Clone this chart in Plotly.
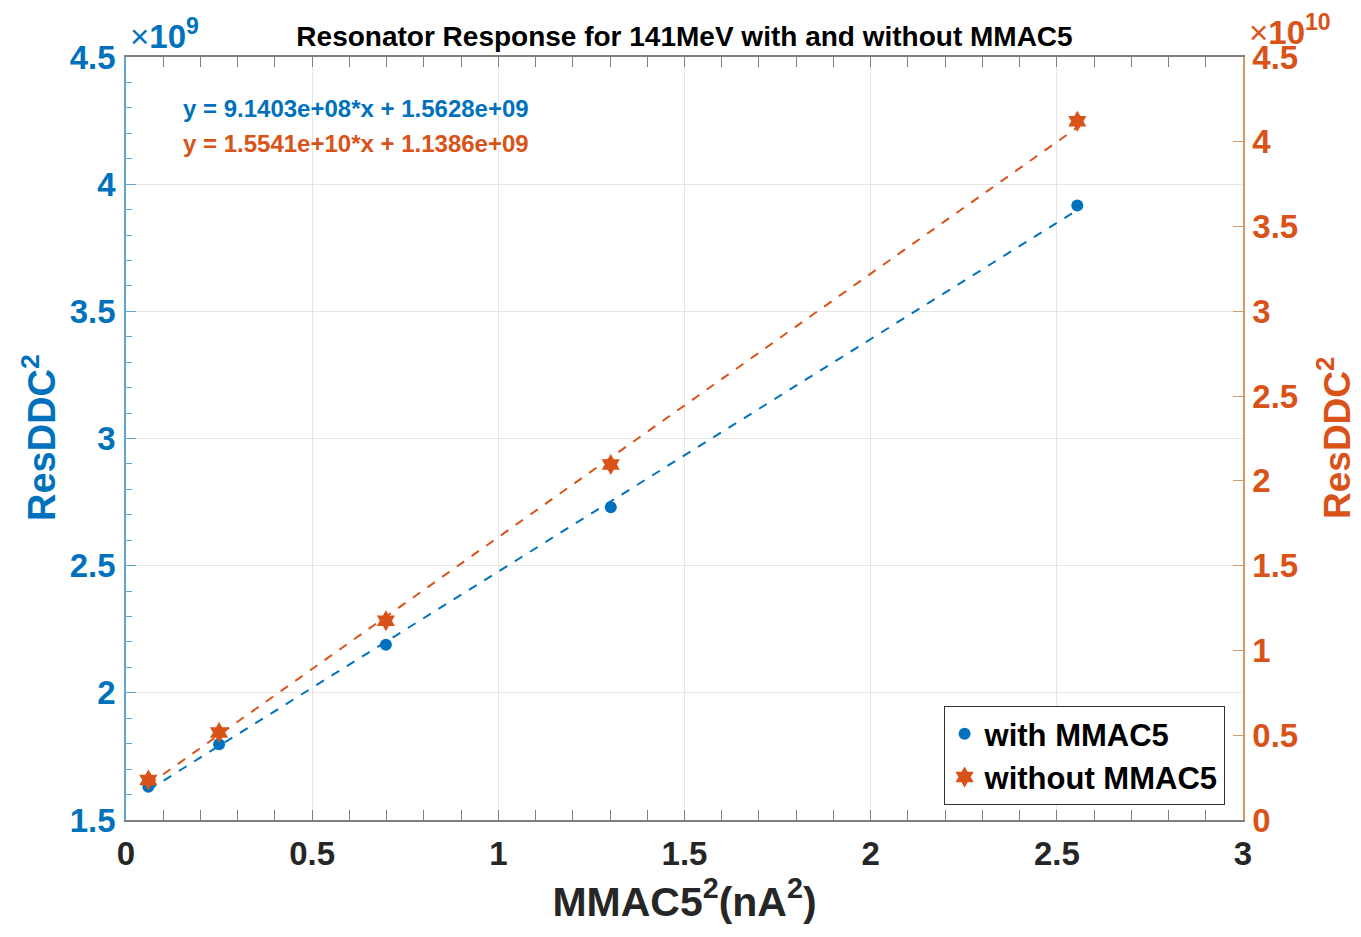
import plotly.graph_objects as go

# ---- data ----
x_mmac = [0.06, 0.25, 0.698, 1.302, 2.555]
y_with = [1.631e9, 1.798e9, 2.189e9, 2.730e9, 3.916e9]
y_without = [0.236e10, 0.516e10, 1.175e10, 2.097e10, 4.121e10]
fit_with = [9.1403e8, 1.5628e9]      # slope, intercept
fit_without = [1.5541e10, 1.1386e9]
left_ticks = [1.5, 2, 2.5, 3, 3.5, 4, 4.5]
right_ticks = [0, 0.5, 1, 1.5, 2, 2.5, 3, 3.5, 4, 4.5]
x_ticks = [0, 0.5, 1, 1.5, 2, 2.5, 3]

BLUE = "#0072BD"
ORANGE = "#D95319"
FONT = "Liberation Sans"

fit_x = [x_mmac[0], x_mmac[-1]]
fit_y_with = [fit_with[0] * v + fit_with[1] for v in fit_x]
fit_y_without = [fit_without[0] * v + fit_without[1] for v in fit_x]

fig = go.Figure()
fig.add_trace(go.Scatter(x=fit_x, y=fit_y_with, mode="lines",
                         line=dict(color=BLUE, width=2, dash="dash"),
                         showlegend=False, yaxis="y"))
fig.add_trace(go.Scatter(x=fit_x, y=fit_y_without, mode="lines",
                         line=dict(color=ORANGE, width=2, dash="dash"),
                         showlegend=False, yaxis="y2"))
fig.add_trace(go.Scatter(x=x_mmac, y=y_with, mode="markers", name="with MMAC5",
                         marker=dict(symbol="circle", size=12, color=BLUE),
                         yaxis="y"))
fig.add_trace(go.Scatter(x=x_mmac, y=y_without, mode="markers", name="without MMAC5",
                         marker=dict(symbol="hexagram", size=16, color=ORANGE),
                         yaxis="y2"))

def fmt(v):
    return ("%g" % v)

PL, PR, PT, PB = 126, 1243, 57, 820
PW, PH = PR - PL, PB - PT

fig.update_layout(
    width=1361, height=937,
    margin=dict(l=PL, r=1361 - PR, t=PT, b=937 - PB),
    paper_bgcolor="white", plot_bgcolor="white",
    font=dict(family=FONT, color="#262626"),
    title=dict(text="Resonator Response for 141MeV with and without MMAC5",
               x=(PL + PR) / 2 / 1361, xanchor="center", y=1 - 36 / 937, yanchor="middle",
               font=dict(size=28, weight="bold", color="black", family=FONT)),
    xaxis=dict(range=[0, 3], tickvals=x_ticks, ticktext=[fmt(v) for v in x_ticks],
               showline=True, linecolor="#7f7f7f", linewidth=1.5, mirror="allticks",
               ticks="inside", ticklen=10, tickcolor="#7f7f7f",
               minor=dict(dtick=0.1, ticks="inside", ticklen=6, tickcolor="#7f7f7f", showgrid=False),
               showgrid=True, gridcolor="#e6e6e6", zeroline=False,
               tickfont=dict(size=33, weight="bold", color="#262626"),
               ticklabelstandoff=4,
               title=dict(text="MMAC5<sup>2</sup>(nA<sup>2</sup>)", standoff=14,
                          font=dict(size=41, weight="bold", color="#262626"))),
    yaxis=dict(range=[1.5e9, 4.5e9], tickvals=[v * 1e9 for v in left_ticks],
               ticktext=[fmt(v) for v in left_ticks],
               showline=True, linecolor="#5fa3cf", linewidth=1.5,
               ticks="inside", ticklen=10, tickcolor="#5fa3cf",
               minor=dict(dtick=1e8, ticks="inside", ticklen=6, tickcolor="#5fa3cf", showgrid=False),
               showgrid=True, gridcolor="#e6e6e6", zeroline=False,
               tickfont=dict(size=33, weight="bold", color=BLUE),
               ticklabelstandoff=2),
    yaxis2=dict(range=[0, 4.5e10], tickvals=[v * 1e10 for v in right_ticks],
                ticktext=[fmt(v) for v in right_ticks],
                overlaying="y", side="right",
                showline=True, linecolor="#d49a6a", linewidth=1.5,
                ticks="inside", ticklen=10, tickcolor="#d49a6a",
                showgrid=False, zeroline=False,
                tickfont=dict(size=33, weight="bold", color=ORANGE),
                ticklabelstandoff=1),
    legend=dict(x=0.9835, xanchor="right", y=0.0195, yanchor="bottom",
                bgcolor="white", bordercolor="#333333", borderwidth=1,
                font=dict(size=31, weight="bold", color="black"),
                itemwidth=30, tracegroupgap=0),
    showlegend=True,
)

# axis titles as rotated annotations
fig.add_annotation(xref="paper", yref="paper", x=(39 - PL) / PW, y=(PB - 438) / PH,
                   xanchor="center", yanchor="middle", textangle=-90, showarrow=False,
                   text="ResDDC<sup>2</sup>",
                   font=dict(size=38, weight="bold", color=BLUE, family=FONT))
fig.add_annotation(xref="paper", yref="paper", x=(1334 - PL) / PW, y=(PB - 438) / PH,
                   xanchor="center", yanchor="middle", textangle=-90, showarrow=False,
                   text="ResDDC<sup>2</sup>",
                   font=dict(size=37, weight="bold", color=ORANGE, family=FONT))

# exponent labels
fig.add_annotation(xref="paper", yref="paper", x=(128 - PL) / PW, y=(PB - 57) / PH,
                   xanchor="left", yanchor="bottom",
                   text="×<b>10<sup>9</sup></b>", showarrow=False,
                   font=dict(size=33, color=BLUE, family=FONT))
fig.add_annotation(xref="paper", yref="paper", x=(1247 - PL) / PW, y=(PB - 53) / PH,
                   xanchor="left", yanchor="bottom",
                   text="×<b>10<sup>10</sup></b>", showarrow=False,
                   font=dict(size=33, color=ORANGE, family=FONT))

# fit equations
fig.add_annotation(xref="paper", yref="paper", x=(181 - PL) / PW, y=(PB - 108) / PH,
                   xanchor="left", yanchor="middle", showarrow=False,
                   text="y = 9.1403e+08*x + 1.5628e+09",
                   font=dict(size=24, weight="bold", color=BLUE, family=FONT))
fig.add_annotation(xref="paper", yref="paper", x=(181 - PL) / PW, y=(PB - 143) / PH,
                   xanchor="left", yanchor="middle", showarrow=False,
                   text="y = 1.5541e+10*x + 1.1386e+09",
                   font=dict(size=24, weight="bold", color=ORANGE, family=FONT))

fig.write_html("out.html")
